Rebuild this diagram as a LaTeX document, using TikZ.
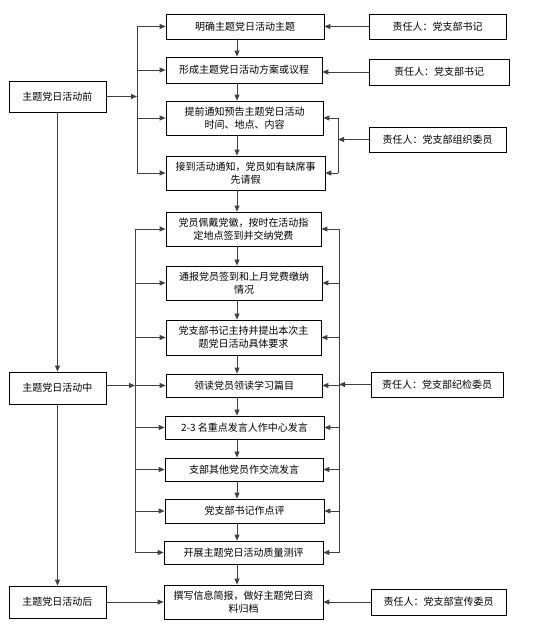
\documentclass[tikz,border=0pt]{standalone}
\usepackage{fontspec}
\setmainfont{Noto Sans CJK SC}
\usetikzlibrary{arrows.meta}
\begin{document}
\begin{tikzpicture}[x=1pt,y=-1pt,
  box/.style={draw=black,line width=0.8pt,inner sep=1pt,align=center,font=\fontsize{10}{13}\selectfont},
  con/.style={draw=black!75,line width=0.9pt},
  arr/.style={con,-{Triangle[length=6pt,width=5pt]}}]
\useasboundingbox (0,0) rectangle (550,638);
% steps
\node[box,minimum width=158pt,minimum height=25pt] (b1) at (245,26.5) {明确主题党日活动主题};
\node[box,minimum width=156pt,minimum height=26pt] (b2) at (244,70) {形成主题党日活动方案或议程};
\node[box,minimum width=157pt,minimum height=34pt] (b3) at (244.5,118) {提前通知预告主题党日活动\\时间、地点、内容};
\node[box,minimum width=159pt,minimum height=34pt] (b4) at (245.5,173) {接到活动通知，党员如有缺席事\\先请假};
\node[box,minimum width=155pt,minimum height=34pt] (b5) at (243.5,229) {党员佩戴党徽，按时在活动指\\定地点签到并交纳党费};
\node[box,minimum width=156pt,minimum height=34pt] (b6) at (244,283) {通报党员签到和上月党费缴纳\\情况};
\node[box,minimum width=155pt,minimum height=35pt] (b7) at (243.5,337.5) {党支部书记主持并提出本次主\\题党日活动具体要求};
\node[box,minimum width=156pt,minimum height=23pt] (b8) at (244,385.5) {领读党员领读学习篇目};
\node[box,minimum width=159pt,minimum height=23pt] (b9) at (244.5,427.5) {2-3 名重点发言人作中心发言};
\node[box,minimum width=158pt,minimum height=23pt] (b10) at (244,469.5) {支部其他党员作交流发言};
\node[box,minimum width=159pt,minimum height=24pt] (b11) at (244.5,511) {党支部书记作点评};
\node[box,minimum width=159pt,minimum height=23pt] (b12) at (243.5,552.5) {开展主题党日活动质量测评};
\node[box,minimum width=159pt,minimum height=34pt] (b13) at (243.5,602) {撰写信息简报，做好主题党日资\\料归档};
% phases
\node[box,minimum width=97pt,minimum height=31pt] (L1) at (57.5,96.5) {主题党日活动前};
\node[box,minimum width=97pt,minimum height=32pt] (L2) at (57.5,388) {主题党日活动中};
\node[box,minimum width=97pt,minimum height=32pt] (L3) at (57.5,602) {主题党日活动后};
% responsibles
\node[box,minimum width=137pt,minimum height=25pt] (R1) at (437.5,26.5) {责任人：党支部书记};
\node[box,minimum width=140pt,minimum height=26pt] (R2) at (439,72) {责任人：党支部书记};
\node[box,minimum width=137pt,minimum height=25pt] (R3) at (437.5,139.5) {责任人：党支部组织委员};
\node[box,minimum width=132pt,minimum height=25pt] (R4) at (437,384.5) {责任人：党支部纪检委员};
\node[box,minimum width=135pt,minimum height=26pt] (R5) at (438.5,602) {责任人：党支部宣传委员};
% bus coordinates
\coordinate (busL1) at (137,0);
\coordinate (busR1) at (338,0);
\coordinate (busL2) at (135,0);
\coordinate (busR2) at (339,0);
\coordinate (midx) at (237,0);
% phase 1
\draw[con] (busL1 |- b1.west) -- (busL1 |- b4.west);
\draw[arr] (L1.east) -- (L1.east -| busL1);
\foreach \b in {b1,b2,b3,b4} \draw[arr] (busL1 |- \b.west) -- (\b.west);
\draw[arr] (R1.west) -- (b1.east);
\draw[arr] (R2.west) -- (R2.west -| b2.east);
\draw[con] (b3.east -| busR1) -- (b4.east -| busR1);
\draw[arr] (R3.west) -- (R3.west -| busR1);
\foreach \b in {b3,b4} \draw[arr] (\b.east -| busR1) -- (\b.east);
% phase 2
\draw[con] (busL2 |- b5.west) -- (busL2 |- b12.west);
\draw[con] (b5.east -| busR2) -- (b12.east -| busR2);
\draw[arr] (L2.east |- b8.west) -- (busL2 |- b8.west);
\draw[arr] (R4.west) -- (R4.west -| busR2);
\foreach \b in {b5,b6,b7,b8,b9,b10,b11,b12} {
  \draw[arr] (busL2 |- \b.west) -- (\b.west);
  \draw[arr] (\b.east -| busR2) -- (\b.east);
}
% phase 3
\draw[arr] (L3.east) -- (b13.west);
\draw[arr] (R5.west) -- (b13.east);
% left chain
\draw[arr] (L1.south) -- (L2.north);
\draw[arr] (L2.south) -- (L3.north);
% main chain
\foreach \a/\c in {b1/b2,b2/b3,b3/b4,b4/b5,b5/b6,b6/b7,b7/b8,b8/b9,b9/b10,b10/b11,b11/b12,b12/b13}
  \draw[arr] (\a.south -| midx) -- (\c.north -| midx);
\end{tikzpicture}
\end{document}
